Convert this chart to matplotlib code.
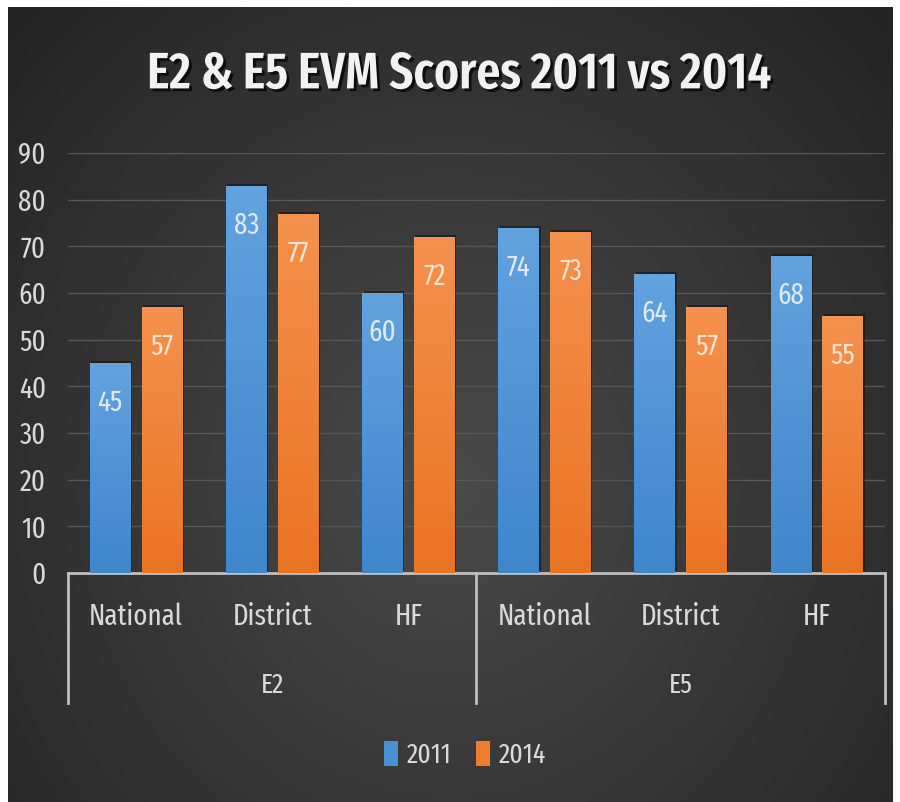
import numpy as np
import matplotlib
matplotlib.use("Agg")
from matplotlib import pyplot as plt
from matplotlib import patheffects as pe
from matplotlib.patches import Rectangle

groups = ["E2", "E5"]
levels = ["National", "District", "HF"]
years = ["2011", "2014"]
scores_2011 = [45, 83, 60, 74, 64, 68]
scores_2014 = [57, 77, 72, 73, 57, 55]
yticks = [0, 10, 20, 30, 40, 50, 60, 70, 80, 90]

font = ["Fira Sans Extra Condensed", "DejaVu Sans"]
plt.rcParams["font.family"] = font
text_col = "#d9d9d9"

fig = plt.figure(figsize=(9, 8.02), dpi=100)
fig.patch.set_facecolor("white")

# dark radial background
bg = fig.add_axes([8/900, 0, 885/900, 795/802])
bg.set_axis_off()
yy, xx = np.mgrid[0:1:400j, 0:1:450j]
r = np.sqrt(((xx - 0.5) / 0.75) ** 2 + ((yy - 0.6) / 0.9) ** 2)
shade = np.clip(0.29 - 0.16 * r, 0.14, 0.29)
bg.imshow(np.dstack([shade] * 3), extent=(0, 1, 0, 1), aspect="auto")

ax = fig.add_axes([68/900, 1 - 573/802, 817/900, 420/802])
ax.set_facecolor("none")
ax.set_xlim(-0.5, 5.5)
ax.set_ylim(0, 90)
ax.set_yticks(yticks)
ax.tick_params(axis="y", length=0, labelsize=21, labelcolor=text_col, pad=16)
ax.set_xticks([])
for s in ["top", "right", "left"]:
    ax.spines[s].set_visible(False)
ax.spines["bottom"].set_color("#bfbfbf")
ax.spines["bottom"].set_linewidth(2)
ax.grid(axis="y", color="#565656", linewidth=1)
ax.set_axisbelow(True)

def grad_bar(x, h, w, top, bot):
    rect = Rectangle((x, 0), w, h, facecolor=bot, edgecolor="none", zorder=3,
                     path_effects=[pe.SimplePatchShadow(offset=(1, 1.5), shadow_rgbFace="#151515", alpha=0.6),
                                   pe.Normal()])
    ax.add_patch(rect)
    t = np.linspace(0, 1, 64)[:, None]
    c0 = np.array(matplotlib.colors.to_rgb(top))
    c1 = np.array(matplotlib.colors.to_rgb(bot))
    img = (c0 * (1 - t) + c1 * t)[:, None, :].repeat(2, axis=1)
    im = ax.imshow(img, extent=(x, x + w, 0, h), aspect="auto", zorder=4, interpolation="bilinear")
    im.set_clip_path(rect)

w = 0.30
gap = 0.08
x = np.arange(len(scores_2011))
for i in range(len(x)):
    grad_bar(x[i] - gap/2 - w, scores_2011[i], w, "#62a2df", "#3f86cd")
    grad_bar(x[i] + gap/2, scores_2014[i], w, "#f5914c", "#ea7422")
    ax.text(x[i] - gap/2 - w/2, scores_2011[i] - 8.5, str(scores_2011[i]), ha="center", va="center",
            fontsize=21, color="#dfe9f4", zorder=5)
    ax.text(x[i] + gap/2 + w/2, scores_2014[i] - 8.5, str(scores_2014[i]), ha="center", va="center",
            fontsize=21, color="#fde3d0", zorder=5)
ax.set_xlim(-0.5, 5.5)
ax.set_ylim(0, 90)

# multi-level category axis
for xs in [-0.5, 2.5, 5.5]:
    ax.plot([xs, xs], [0, -0.31], transform=ax.get_xaxis_transform(), color="#bfbfbf",
            linewidth=2, clip_on=False)
for i in range(len(x)):
    ax.text(x[i], -0.105, levels[i % 3], transform=ax.get_xaxis_transform(), ha="center",
            va="center", fontsize=21, color=text_col)
for g, name in enumerate(groups):
    ax.text(1 + 3 * g, -0.267, name, transform=ax.get_xaxis_transform(), ha="center",
            va="center", fontsize=20, color=text_col)

fig.text(459/900, 1 - 75/802, "E2 & E5 EVM Scores 2011 vs 2014", ha="center", va="center",
         fontsize=37, fontweight="semibold", color="#f2f2f2",
         path_effects=[pe.withSimplePatchShadow(offset=(2, -2), shadow_rgbFace="black", alpha=0.7)])

leg_handles = [Rectangle((0, 0), 1, 1, facecolor="#4a90d6"), Rectangle((0, 0), 1, 1, facecolor="#ee7d2c")]
fig.legend(leg_handles, years, loc="center", bbox_to_anchor=(465/900, 1 - 755/802), ncol=2,
           frameon=False, fontsize=20, labelcolor=text_col, handlelength=0.5, handleheight=1.0,
           handletextpad=0.3, columnspacing=0.9)

fig.savefig("out.png", dpi=100)
